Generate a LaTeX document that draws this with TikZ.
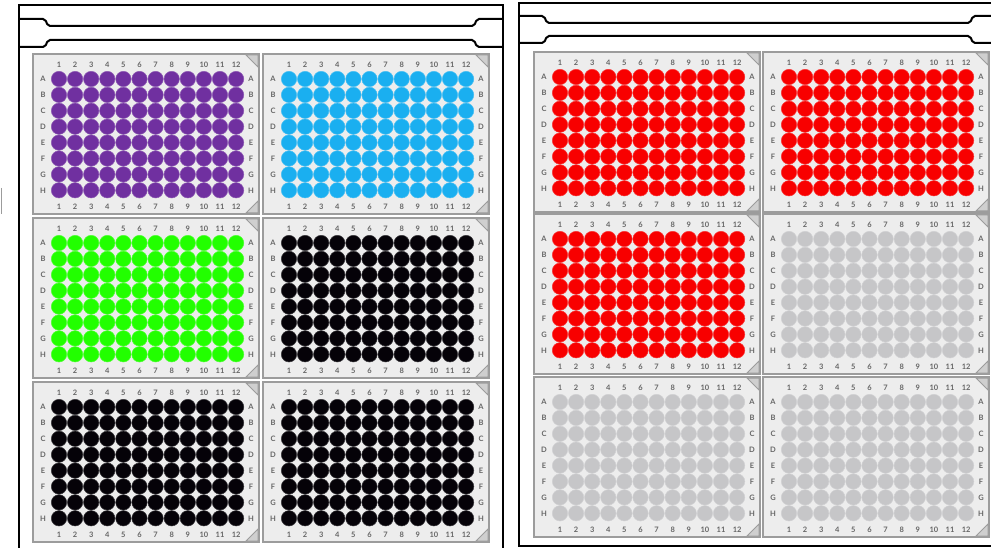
\documentclass[tikz,border=0pt]{standalone}
\usepackage{fontspec}
\newfontfamily\platefont{Lato}

\definecolor{wellpurple}{HTML}{7030A0}
\definecolor{wellblue}{HTML}{1AAFF0}
\definecolor{wellgreen}{HTML}{22FF00}
\definecolor{wellblack}{HTML}{050208}
\definecolor{wellred}{HTML}{F80000}
\definecolor{wellgray}{HTML}{C6C6C8}
\definecolor{platerim}{HTML}{9C9C9C}
\definecolor{platebase}{HTML}{EDEDED}
\definecolor{platecorner}{HTML}{CFCFCF}
\definecolor{labelgray}{HTML}{666666}

\tikzset{
  rackline/.style={draw=black, line width=2pt},
  plateframe/.style={draw=platerim, fill=platebase, line width=2pt},
  cornerpiece/.style={draw=platerim, fill=platecorner, line width=1pt},
  platelabel/.style={text=labelgray, font=\platefont\bfseries\fontsize{7.5}{8}\selectfont, inner sep=0pt},
  well/.style={fill=#1, draw=#1!80!white, line width=0.5pt}
}

\begin{document}
\begin{tikzpicture}[x=1pt, y=-1pt]
  \useasboundingbox (0,0) rectangle (991,548);

  % left rack
  \draw[rackline] (19,548) -- (19,5) -- (503,5) -- (503,548);
  \draw[rackline, rounded corners=2pt] (19,19) -- (45,19) -- (48,26) -- (474,26) -- (477,19) -- (503,19);
  \draw[rackline, rounded corners=2pt] (19,47) -- (45,47) -- (48,40) -- (474,40) -- (477,47) -- (503,47);
  \draw[platerim, line width=1pt] (1,188) -- (1,214);

  % right rack
  \draw[rackline] (993,546) -- (519,546) -- (519,3) -- (993,3);
  \draw[rackline, rounded corners=2pt] (519,16) -- (544,16) -- (547,23) -- (970,23) -- (973,16) -- (993,16);
  \draw[rackline, rounded corners=2pt] (519,43) -- (544,43) -- (547,36) -- (970,36) -- (973,43) -- (993,43);

  % 96-well plates
  \foreach \name/\px/\py/\wc in {pa/33/54/wellpurple, pb/263/54/wellblue,
      pc/33/218/wellgreen, pd/263/218/wellblack, pe/33/382/wellblack, pf/263/382/wellblack,
      qa/534/52/wellred, qb/763/52/wellred, qc/534/214/wellred, qd/763/214/wellgray,
      qe/534/377/wellgray, qf/763/377/wellgray} {
    \begin{scope}[shift={(\px,\py)}]
      \draw[plateframe] (0,0) rectangle (226,160);
      \draw[cornerpiece] (213,1) -- (225,1) -- (225,13) -- cycle;
      \draw[cornerpiece] (225,147) -- (225,159) -- (213,159) -- cycle;
      \foreach \c in {1,...,12} {
        \node[platelabel] (\name-t\c) at ({26+(\c-1)*16.1},11) {\c};
        \node[platelabel] (\name-b\c) at ({26+(\c-1)*16.1},153) {\c};
        \foreach \r in {1,...,8}
          \filldraw[well=\wc] ({26+(\c-1)*16.1},{25+(\r-1)*15.9}) circle (7.7);
      }
      \foreach \r/\l in {1/A,2/B,3/C,4/D,5/E,6/F,7/G,8/H} {
        \node[platelabel] (\name-l\l) at (10,{25+(\r-1)*15.9}) {\l};
        \node[platelabel] (\name-r\l) at (218,{25+(\r-1)*15.9}) {\l};
      }
    \end{scope}
  }
\end{tikzpicture}
\end{document}
